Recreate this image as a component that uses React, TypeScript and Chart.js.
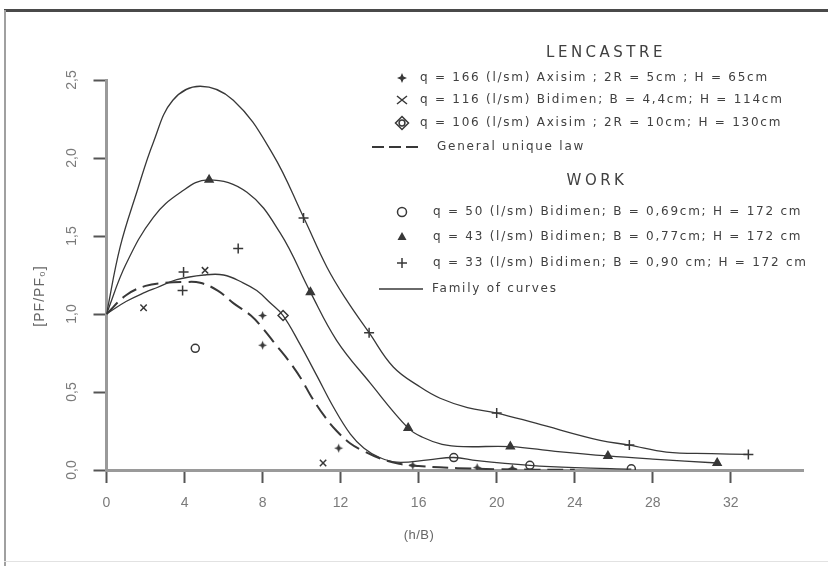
import React, { useEffect, useRef } from 'react';
import { Chart, registerables } from 'chart.js';

Chart.register(...registerables);

// ---------- axis ticks ----------
const xTicks = [0, 4, 8, 12, 16, 20, 24, 28, 32];
const yTicks = [0, 0.5, 1.0, 1.5, 2.0, 2.5];
const yTickLabels = ['0,0', '0,5', '1,0', '1,5', '2,0', '2,5'];
const xTitle = '(h/B)';
const yTitle = '[PF/PF\u2080]';

// ---------- family of curves (solid) ----------
const curveAX = [0, 0.7, 1.55, 2.4, 3.4, 4.8, 6.5, 8.5, 10.1, 11.3, 12.3, 13.46, 14.7, 16.1, 17.1, 18.5, 20, 22, 25.3, 26.8, 28.7, 31, 32.9];
const curveAY = [1.0, 1.43, 1.78, 2.1, 2.37, 2.46, 2.37, 2.03, 1.62, 1.3, 1.09, 0.88, 0.66, 0.53, 0.46, 0.4, 0.365, 0.3, 0.19, 0.16, 0.115, 0.105, 0.1];

const curveBX = [0, 1, 2.4, 3.8, 5.2, 7.2, 8.9, 10.45, 11.8, 13.5, 15.45, 16.2, 17.2, 18.3, 20.7, 23, 25.7, 28, 31.3];
const curveBY = [1.0, 1.32, 1.62, 1.78, 1.86, 1.78, 1.52, 1.14, 0.83, 0.56, 0.27, 0.21, 0.165, 0.15, 0.15, 0.12, 0.09, 0.07, 0.045];

const curveCX = [0, 1, 2, 2.6, 3.6, 5, 6, 7, 7.7, 8.4, 9.05, 9.9, 10.8, 11.6, 12.5, 13.2, 14, 14.9, 16.5, 17.8, 19, 21.7, 24, 26.9];
const curveCY = [1.0, 1.08, 1.14, 1.17, 1.22, 1.25, 1.25, 1.2, 1.15, 1.07, 0.99, 0.81, 0.6, 0.41, 0.23, 0.14, 0.08, 0.05, 0.065, 0.08, 0.06, 0.03, 0.015, 0.005];

// ---------- general unique law (dashed) ----------
const lawX = [0, 1, 2, 3, 4, 4.8, 5.7, 6.5, 7.4, 8, 8.7, 9.4, 10, 10.5, 11.2, 11.8, 12.5, 13.2, 14, 15, 16, 18, 20, 22, 24];
const lawY = [1.0, 1.12, 1.18, 1.2, 1.205, 1.2, 1.15, 1.07, 0.99, 0.91, 0.8, 0.69, 0.58, 0.47, 0.34, 0.25, 0.17, 0.12, 0.075, 0.04, 0.025, 0.012, 0.005, 0.002, 0.001];

// ---------- measured points ----------
const q166X = [8.0, 8.0, 11.9, 15.7, 19.0, 20.8];
const q166Y = [0.99, 0.8, 0.14, 0.03, 0.015, 0.01];
const q116X = [1.9, 5.05, 11.1];
const q116Y = [1.04, 1.28, 0.045];
const q106X = [9.05];
const q106Y = [0.99];
const q50X = [4.55, 17.8, 21.7, 26.9];
const q50Y = [0.78, 0.08, 0.03, 0.008];
const q43X = [5.26, 10.45, 15.46, 20.7, 25.7, 31.3];
const q43Y = [1.86, 1.14, 0.27, 0.15, 0.09, 0.045];
const q33X = [3.95, 3.9, 6.75, 10.1, 13.46, 20.0, 26.8, 32.9];
const q33Y = [1.27, 1.15, 1.42, 1.615, 0.88, 0.365, 0.16, 0.1];

// ---------- legend texts ----------
const lencastreTitle = 'LENCASTRE';
const workTitle = 'WORK';
const lencastreLabels = [
  'q = 166 (l/sm) Axisim ; 2R = 5cm ; H = 65cm',
  'q = 116 (l/sm) Bidimen; B = 4,4cm; H = 114cm',
  'q = 106 (l/sm) Axisim ; 2R = 10cm; H = 130cm',
];
const lawLabel = 'General unique law';
const workLabels = [
  'q = 50 (l/sm) Bidimen; B = 0,69cm; H = 172 cm',
  'q = 43 (l/sm) Bidimen; B = 0,77cm; H = 172 cm',
  'q = 33 (l/sm) Bidimen; B = 0,90 cm; H = 172 cm',
];
const familyLabel = 'Family of curves';

const INK = '#383838';
const TEXT = '#404040';
const AXIS = '#9a9a9a';
const TICKLBL = '#7a7a7a';

const pts = (xs: number[], ys: number[]) => xs.map((x, i) => ({ x, y: ys[i] }));

function starPath(g: CanvasRenderingContext2D, cx: number, cy: number, r: number) {
  const ri = r * 0.42;
  g.beginPath();
  for (let i = 0; i < 8; i++) {
    const a = -Math.PI / 2 + (i * Math.PI) / 4;
    const rr = i % 2 === 0 ? r : ri;
    g.lineTo(cx + Math.cos(a) * rr, cy + Math.sin(a) * rr);
  }
  g.closePath();
}

function makeStarImage(r: number) {
  const s = Math.ceil(r * 2 + 2);
  const c = document.createElement('canvas');
  c.width = s;
  c.height = s;
  const g = c.getContext('2d')!;
  starPath(g, s / 2, s / 2, r);
  g.fillStyle = INK;
  g.fill();
  return c;
}

function drawMarker(ctx: CanvasRenderingContext2D, style: string, x: number, y: number, r: number) {
  ctx.save();
  ctx.strokeStyle = INK;
  ctx.fillStyle = INK;
  ctx.lineWidth = 1.5;
  ctx.beginPath();
  if (style === 'star4') {
    starPath(ctx, x, y, r);
    ctx.fill();
  } else if (style === 'crossRot') {
    ctx.moveTo(x - r, y - r * 0.8);
    ctx.lineTo(x + r, y + r * 0.8);
    ctx.moveTo(x + r, y - r * 0.8);
    ctx.lineTo(x - r, y + r * 0.8);
    ctx.stroke();
  } else if (style === 'rectRot') {
    ctx.moveTo(x, y - r);
    ctx.lineTo(x + r, y);
    ctx.lineTo(x, y + r);
    ctx.lineTo(x - r, y);
    ctx.closePath();
    ctx.stroke();
    ctx.beginPath();
    ctx.arc(x, y, r * 0.45, 0, Math.PI * 2);
    ctx.stroke();
  } else if (style === 'circle') {
    ctx.arc(x, y, r, 0, Math.PI * 2);
    ctx.stroke();
  } else if (style === 'triangle') {
    ctx.moveTo(x, y - r);
    ctx.lineTo(x + r * 0.9, y + r * 0.6);
    ctx.lineTo(x - r * 0.9, y + r * 0.6);
    ctx.closePath();
    ctx.fill();
  } else if (style === 'cross') {
    ctx.moveTo(x - r, y);
    ctx.lineTo(x + r, y);
    ctx.moveTo(x, y - r);
    ctx.lineTo(x, y + r);
    ctx.stroke();
  }
  ctx.restore();
}

const framePlugin = {
  id: 'frame',
  beforeDraw(chart: any) {
    const ctx = chart.ctx as CanvasRenderingContext2D;
    ctx.save();
    ctx.fillStyle = '#ffffff';
    ctx.fillRect(0, 0, chart.width, chart.height);
    ctx.fillStyle = '#4a4a4a';
    ctx.fillRect(4, 9, chart.width - 4, 3);
    ctx.fillStyle = '#a0a0a0';
    ctx.fillRect(4, 10, 2, chart.height - 10);
    ctx.fillStyle = '#e2e2e2';
    ctx.fillRect(4, 561, chart.width - 4, 1);
    ctx.restore();
  },
};

const textPlugin = {
  id: 'texts',
  afterDraw(chart: any) {
    const ctx = chart.ctx as CanvasRenderingContext2D;
    ctx.save();
    // axis titles
    ctx.fillStyle = '#666';
    ctx.font = '13px "Liberation Sans"';
    ctx.textAlign = 'center';
    ctx.textBaseline = 'middle';
    (ctx as any).letterSpacing = '0.5px';
    ctx.fillText(xTitle, 419, 535);
    ctx.save();
    ctx.translate(40, 296);
    ctx.rotate(-Math.PI / 2);
    ctx.font = '14px "Liberation Sans"';
    (ctx as any).letterSpacing = '1px';
    ctx.fillText(yTitle, 0, 0);
    ctx.restore();

    // legend
    ctx.fillStyle = TEXT;
    ctx.textBaseline = 'middle';
    ctx.textAlign = 'center';
    ctx.font = '15px "DejaVu Sans"';
    (ctx as any).letterSpacing = '3.5px';
    ctx.fillText(lencastreTitle, 606, 53);
    ctx.fillText(workTitle, 597, 181);

    ctx.textAlign = 'left';
    ctx.font = '12px "DejaVu Sans"';
    (ctx as any).letterSpacing = '1.75px';
    const lenStyles = ['star4', 'crossRot', 'rectRot'];
    const lenRows = [78, 100, 123];
    lencastreLabels.forEach((t, i) => {
      drawMarker(ctx, lenStyles[i], 402, lenRows[i], lenStyles[i] === 'rectRot' ? 6.5 : 5);
      ctx.fillText(t, 420, lenRows[i]);
    });
    ctx.save();
    ctx.strokeStyle = INK;
    ctx.lineWidth = 2;
    ctx.setLineDash([12, 5]);
    ctx.beginPath();
    ctx.moveTo(372, 147);
    ctx.lineTo(422, 147);
    ctx.stroke();
    ctx.restore();
    ctx.fillText(lawLabel, 437, 147);

    const workStyles = ['circle', 'triangle', 'cross'];
    const workRows = [212, 237, 263];
    workLabels.forEach((t, i) => {
      drawMarker(ctx, workStyles[i], 402, workRows[i], workStyles[i] === 'circle' ? 4.5 : 5);
      ctx.fillText(t, 433, workRows[i]);
    });
    ctx.save();
    ctx.strokeStyle = INK;
    ctx.lineWidth = 1.5;
    ctx.beginPath();
    ctx.moveTo(379, 289);
    ctx.lineTo(423, 289);
    ctx.stroke();
    ctx.restore();
    ctx.fillText(familyLabel, 432, 289);
    ctx.restore();
  },
};

export default function App() {
  const ref = useRef<HTMLCanvasElement>(null);

  useEffect(() => {
    const canvas = ref.current!;
    const star = makeStarImage(4.5);
    const lineDs = (xs: number[], ys: number[], dashed: boolean) => ({
      data: pts(xs, ys),
      showLine: true,
      borderColor: INK,
      borderWidth: dashed ? 2 : 1.3,
      borderDash: dashed ? [16, 7] : [],
      pointRadius: 0,
      tension: 0.4,
      fill: false,
    });
    const markDs = (xs: number[], ys: number[], style: any, radius: number, filled: boolean) => ({
      data: pts(xs, ys),
      showLine: false,
      pointStyle: style,
      pointRadius: radius,
      pointBorderWidth: 1.5,
      pointBorderColor: INK,
      pointBackgroundColor: filled ? INK : 'rgba(255,255,255,0)',
    });

    const chart = new Chart(canvas, {
      type: 'scatter',
      data: {
        datasets: [
          lineDs(curveAX, curveAY, false),
          lineDs(curveBX, curveBY, false),
          lineDs(curveCX, curveCY, false),
          lineDs(lawX, lawY, true),
          markDs(q166X, q166Y, star, 4.5, true),
          markDs(q116X, q116Y, 'crossRot', 4.5, false),
          markDs(q106X, q106Y, 'rectRot', 5, false),
          markDs(q50X, q50Y, 'circle', 4, false),
          markDs(q43X, q43Y, 'triangle', 4.5, true),
          markDs(q33X, q33Y, 'cross', 5, false),
        ] as any,
      },
      options: {
        animation: false,
        responsive: false,
        maintainAspectRatio: false,
        devicePixelRatio: 1,
        layout: { padding: { left: 60, top: 80, right: 25, bottom: 46 } },
        plugins: {
          legend: { display: false },
          tooltip: { enabled: false },
          title: { display: false },
        },
        scales: {
          x: {
            type: 'linear',
            min: 0,
            max: 35.7,
            afterBuildTicks: (s: any) => {
              s.ticks = xTicks.map((v) => ({ value: v }));
            },
            afterFit: (s: any) => {
              s.height = 50;
            },
            grid: {
              drawOnChartArea: false,
              drawTicks: true,
              tickLength: 13,
              tickColor: '#555',
              tickWidth: 2,
            },
            border: { display: true, color: AXIS, width: 3 },
            ticks: {
              color: TICKLBL,
              font: { family: 'Liberation Sans', size: 14 },
              padding: 12,
              maxRotation: 0,
              callback: (v: any) => String(v),
            },
          },
          y: {
            type: 'linear',
            min: 0,
            max: 2.5,
            afterBuildTicks: (s: any) => {
              s.ticks = yTicks.map((v) => ({ value: v }));
            },
            afterFit: (s: any) => {
              s.width = 46.5;
            },
            grid: {
              drawOnChartArea: false,
              drawTicks: true,
              tickLength: 13,
              tickColor: '#555',
              tickWidth: 2,
            },
            border: { display: true, color: AXIS, width: 3 },
            ticks: {
              color: TICKLBL,
              font: { family: 'Liberation Sans', size: 14 },
              padding: 12,
              minRotation: 90,
              maxRotation: 90,
              crossAlign: 'center',
              callback: (_v: any, i: number) => yTickLabels[i],
            },
          },
        },
      } as any,
      plugins: [framePlugin, textPlugin],
    });
    return () => chart.destroy();
  }, []);

  return (
    <div style={{ position: 'fixed', left: 0, top: 0, width: 828, height: 566, background: '#fff' }}>
      <canvas ref={ref} width={828} height={566} style={{ display: 'block', width: 828, height: 566 }} />
    </div>
  );
}
